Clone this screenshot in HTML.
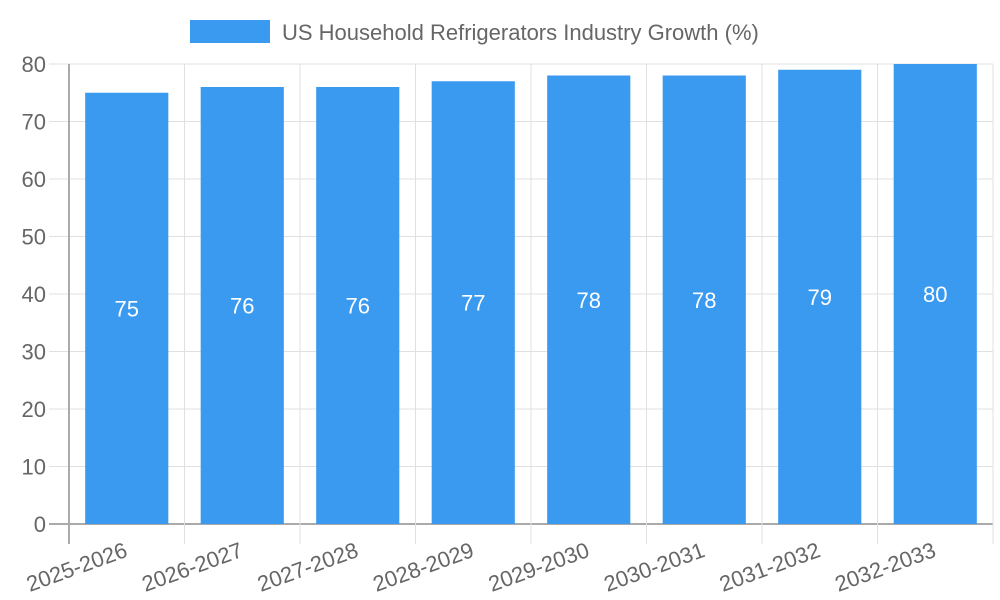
<!DOCTYPE html>
<html><head><meta charset="utf-8"><style>
body{margin:0;background:#fff}
svg{display:block;font-family:"Liberation Sans",sans-serif}
</style></head><body>
<svg id="c" width="1000" height="600">
<g>
<rect x="190" y="20" width="80" height="23" fill="#3a9af0"/>
<text x="282" y="40" font-size="22" fill="#666">US Household Refrigerators Industry Growth (%)</text>
</g>
</svg>
<script>
const categories=["2025-2026","2026-2027","2027-2028","2028-2029","2029-2030","2030-2031","2031-2032","2032-2033"];
const values=[75,76,76,77,78,78,79,80];
const yTicks=[0,10,20,30,40,50,60,70,80];
const svg=document.getElementById('c');
const NS='http://www.w3.org/2000/svg';
const L=69,R=993,T=64,B=524,yMax=80;
const bw=(R-L)/categories.length;
const x=i=>L+i*bw;
const y=v=>B-(v/yMax)*(B-T);
function mk(t,a,p){const e=document.createElementNS(NS,t);for(const k in a)e.setAttribute(k,a[k]);(p||svg).appendChild(e);return e;}
const grid=mk('g',{});


yTicks.forEach(v=>{
 const l=mk('line',{x1:49,x2:R,y1:y(v),y2:y(v),stroke:v===0?'#aaa':'#e0e0e0','stroke-width':v===0?2:1},grid);
 
 
 const t=mk('text',{x:46,y:y(v)+8,'text-anchor':'end','font-size':22,fill:'#666'});
 t.textContent=v;
 
 
});
for(let i=0;i<=categories.length;i++){
 const l=mk('line',{x1:x(i),x2:x(i),y1:T,y2:544,stroke:i===0?'#aaa':'#e0e0e0','stroke-width':i===0?2:1},grid);
 
 
}
categories.forEach((c,i)=>{
 const cx=x(i)+bw/2,w=bw*0.72;
 const r=mk('rect',{x:cx-w/2,y:y(values[i]),width:w,height:B-y(values[i]),fill:'#3a9af0'});
 
 
 const v=mk('text',{x:cx,y:(y(values[i])+B)/2+8,'text-anchor':'middle','font-size':22,fill:'#fff'});
 v.textContent=values[i];
 
 
 const t=mk('text',{x:cx+2,y:556,'text-anchor':'end','font-size':22,fill:'#666',transform:`rotate(-20 ${cx+2} 556)`});
 t.textContent=c;
 
 
});
</script>
</body></html>
